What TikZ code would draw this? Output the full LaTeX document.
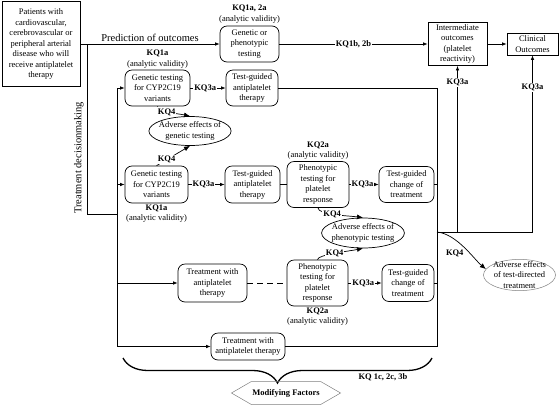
\documentclass[tikz,border=0pt]{standalone}
\usepackage{fontspec}
\setmainfont{Liberation Serif}
\usetikzlibrary{positioning, arrows.meta, shapes.geometric, shapes.symbols, decorations.pathreplacing}

\begin{document}
\begin{tikzpicture}[
  x=1pt, y=-1pt, line width=0.7pt,
  font=\fontsize{8.5}{10.5}\selectfont,
  arr/.style={-{Latex[length=4.5pt,width=3.5pt]}},
  kqarr/.style={-{Latex[length=6pt,width=5pt]}},
  box/.style={rectangle, rounded corners=7pt, draw=black, align=center, inner sep=1pt},
  sbox/.style={rectangle, draw=black, align=center, inner sep=1pt},
  adv/.style={ellipse, draw=black, align=center, inner xsep=-2pt, inner ysep=0pt},
  kq/.style={font=\fontsize{8.5}{10.5}\selectfont\bfseries, fill=white, inner sep=1pt},
  lbl/.style={align=center, inner sep=0pt},
  big/.style={font=\fontsize{10.5}{12}\selectfont}
]
\useasboundingbox (0,0) rectangle (559,405);

% top row
\node[sbox, minimum width=78pt, minimum height=85pt] (pat) at (41,44) {Patients with\\cardiovascular,\\cerebrovascular or\\peripheral arterial\\disease who will\\receive antiplatelet\\therapy};
\node[box, minimum width=59pt, minimum height=36pt] (gpt) at (249.5,44) {Genetic or\\phenotypic\\testing};
\node[lbl, above=2pt of gpt] (gptkq) {\textbf{KQ1a, 2a}\\(analytic validity)};
\node[sbox, minimum width=59pt, minimum height=43pt] (inter) at (457.5,44) {Intermediate\\outcomes\\(platelet\\reactivity)};
\node[sbox, minimum width=51pt, minimum height=22pt] (clin) at (532.5,44) {Clinical\\Outcomes};

% genetic testing branches
\node[box, minimum width=65pt, minimum height=36pt] (gen1) at (157.5,88) {Genetic testing\\for CYP2C19\\variants};
\node[lbl, above=1pt of gen1] (gen1kq) {\textbf{KQ1a}\\(analytic validity)};
\node[box, minimum width=52pt, minimum height=36pt] (tga1) at (252,88) {Test-guided\\antiplatelet\\therapy};
\node[adv, minimum width=80pt, minimum height=29pt] (adgen) at (190,131) {Adverse effects of\\genetic testing};
\node[box, minimum width=63pt, minimum height=37pt] (gen2) at (156.5,184.5) {Genetic testing\\for CYP2C19\\variants};
\node[lbl, below=1pt of gen2] (gen2kq) {\textbf{KQ1a}\\(analytic validity)};
\node[box, minimum width=55pt, minimum height=37pt] (tga2) at (252.5,184.5) {Test-guided\\antiplatelet\\therapy};

% phenotypic testing branches
\node[box, minimum width=62pt, minimum height=46pt] (phen1) at (318,184.5) {Phenotypic\\testing for\\platelet\\response};
\node[lbl, above=1pt of phen1] (phen1kq) {\textbf{KQ2a}\\(analytic validity)};
\node[box, minimum width=55pt, minimum height=36pt] (chg1) at (406.5,184.5) {Test-guided\\change of\\treatment};
\node[adv, minimum width=81pt, minimum height=30pt] (adphen) at (363,233) {Adverse effects of\\phenotypic testing};
\node[box, minimum width=69pt, minimum height=38pt] (trt1) at (212.5,283) {Treatment with\\antiplatelet\\therapy};
\node[box, minimum width=61pt, minimum height=46pt] (phen2) at (317.5,283) {Phenotypic\\testing for\\platelet\\response};
\node[lbl, below=1pt of phen2] (phen2kq) {\textbf{KQ2a}\\(analytic validity)};
\node[box, minimum width=52pt, minimum height=37pt] (chg2) at (408,283) {Test-guided\\change of\\treatment};
\node[box, minimum width=74pt, minimum height=27pt] (trt2) at (248,346.5) {Treatment with\\antiplatelet therapy};
\node[adv, draw=gray, line width=0.5pt, inner xsep=-1pt, inner ysep=-2.5pt] (adtrt) at (519.5,275) {Adverse effects\\of test-directed\\treatment};

% modifying factors
\coordinate (brR) at (432,358);
\coordinate (brL) at (123,358);
\draw[decorate, decoration={brace, amplitude=25pt}, line width=1.3pt] (brR) -- (brL);
\node[font=\fontsize{8.5}{10.5}\selectfont\bfseries] (kqmod) at (383,377) {KQ 1c, 2c, 3b};
\node[signal, signal to=east and west, signal pointer angle=60, draw=gray, line width=0.5pt,
      minimum width=105pt, minimum height=23pt, inner sep=1pt,
      font=\fontsize{8.5}{10.5}\selectfont\bfseries] (mod) at (286,393) {Modifying Factors};

% top connections
\draw[arr] (pat.east) -- node[above, big, inner sep=2pt]{Prediction of outcomes} (gpt.west);
\draw[arr] (gpt.east) -- node[kq]{KQ1b, 2b} (inter.west);
\draw[arr] (inter.east) -- (clin.west);

% treatment decisionmaking and bus
\coordinate (dec) at (87,44);
\coordinate (bus) at (117,0);
\coordinate (join) at (117,214);
\draw (dec) -- node[pos=0.67, rotate=90, above, big, inner sep=3pt]{Treatment decisionmaking} (dec |- join) -- (join);
\draw (bus |- gen1.west) -- (bus |- trt2.west);
\draw[arr] (bus |- gen1.west) -- (gen1.west);
\draw[arr] (bus |- gen2.west) -- (gen2.west);
\draw[arr] (bus |- trt1.west) -- (trt1.west);
\draw[arr] (bus |- trt2.west) -- (trt2.west);

% test-guided steps
\draw[arr] (gen1.east) -- node[kq, pos=0.42]{KQ3a} (tga1.west);
\draw[arr] (gen2.east) -- node[kq, pos=0.42]{KQ3a} (tga2.west);
\draw (tga2.east) -- (phen1.west);
\draw[arr] (phen1.east) -- node[kq, pos=0.45]{KQ3a} (chg1.west);
\draw[dash pattern=on 6pt off 4pt] (trt1.east) -- (phen2.west);
\draw[arr] (phen2.east) -- node[kq, pos=0.45]{KQ3a} (chg2.west);

% frame to outcomes
\coordinate (frm) at (437,0);
\coordinate (out) at (437,232);
\draw (tga1.east) -- (frm |- tga1.east) -- (frm |- trt2.east) -- (trt2.east);
\draw (chg1.east) -- (frm |- chg1.east);
\draw (chg2.east) -- (frm |- chg2.east);
\draw (out) -- (clin.south |- out);
\draw[arr] (inter.south |- out) -- node[kq, pos=0.9]{KQ3a} (inter.south);
\draw[arr] (clin.south |- out) -- node[kq, pos=0.82]{KQ3a} (clin.south);

% adverse effects
\draw[kqarr] (gen1.south) .. controls +(0,6) and +(-14,-3) .. (adgen.north) node[kq, pos=0.45]{KQ4};
\draw[kqarr] (gen2.north) -- (adgen.south) node[kq, pos=0.3]{KQ4};
\draw[kqarr] (phen1.south) .. controls +(0,7) and +(-15,-2) .. (adphen.north) node[kq, pos=0.45]{KQ4};
\draw[kqarr] (phen2.north) .. controls +(0,-5) and +(-15,3) .. (adphen.south) node[kq, pos=0.5]{KQ4};
\draw[kqarr] (out) .. controls +(20,2) and +(-12,-10) .. (adtrt.170) node[pos=0.62, left=3pt, font=\fontsize{8.5}{10.5}\selectfont\bfseries]{KQ4};
\end{tikzpicture}
\end{document}
